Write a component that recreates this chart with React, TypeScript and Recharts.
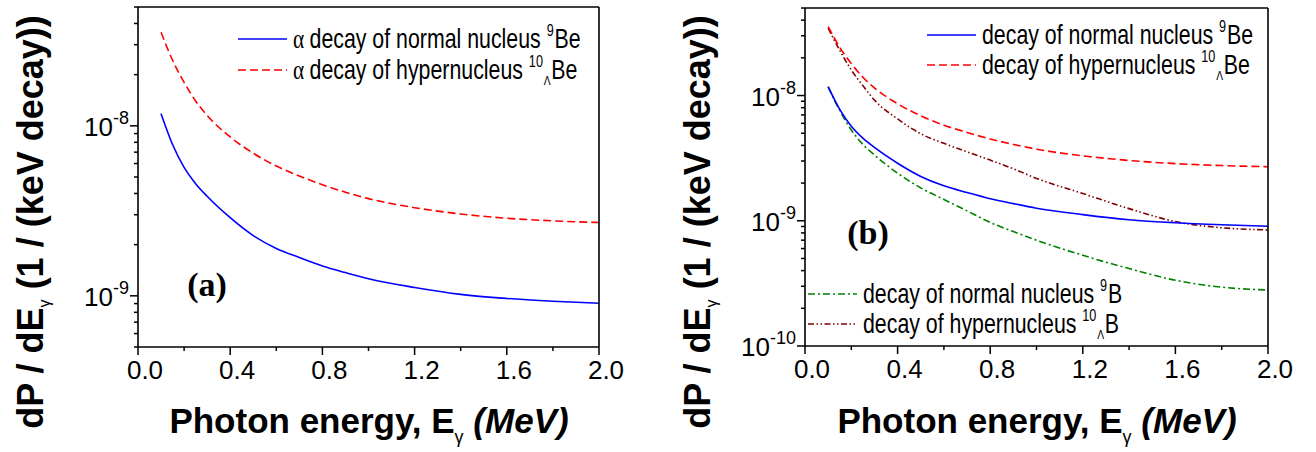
import React from "react";
import { LineChart, Line, XAxis, YAxis, Legend } from "recharts";

// photon energy E_gamma (MeV)
const energy = [0.1, 0.15, 0.2, 0.25, 0.3, 0.4, 0.5, 0.6, 0.7, 0.8, 0.9, 1.0, 1.2, 1.4, 1.6, 1.8, 2.0];
// dP/dE (1 / (keV decay))
const be9 = [1.18e-8, 7.76e-9, 5.69e-9, 4.57e-9, 3.85e-9, 2.88e-9, 2.26e-9, 1.9e-9, 1.68e-9, 1.5e-9, 1.37e-9, 1.26e-9, 1.12e-9, 1.02e-9, 0.965e-9, 0.93e-9, 0.905e-9];
const be10L = [3.55e-8, 2.43e-8, 1.8e-8, 1.4e-8, 1.15e-8, 8.6e-9, 6.9e-9, 5.8e-9, 5.07e-9, 4.5e-9, 4.07e-9, 3.73e-9, 3.3e-9, 3.03e-9, 2.86e-9, 2.76e-9, 2.7e-9];
const b9 = [1.17e-8, 7.6e-9, 5.3e-9, 4.07e-9, 3.35e-9, 2.4e-9, 1.83e-9, 1.48e-9, 1.2e-9, 0.97e-9, 0.82e-9, 0.7e-9, 0.53e-9, 0.415e-9, 0.335e-9, 0.295e-9, 0.28e-9];
const b10L = [3.45e-8, 2.3e-8, 1.6e-8, 1.2e-8, 9.2e-9, 6.5e-9, 4.95e-9, 4.15e-9, 3.55e-9, 3.05e-9, 2.6e-9, 2.18e-9, 1.65e-9, 1.25e-9, 0.985e-9, 0.88e-9, 0.845e-9];

const xTicks = [0, 0.2, 0.4, 0.6, 0.8, 1.0, 1.2, 1.4, 1.6, 1.8, 2.0];
const yTicksA = [
  5e-10, 6e-10, 7e-10, 8e-10, 9e-10,
  1e-9, 2e-9, 3e-9, 4e-9, 5e-9, 6e-9, 7e-9, 8e-9, 9e-9,
  1e-8, 2e-8, 3e-8, 4e-8, 5e-8,
];
const yTicksB = [
  1e-10, 2e-10, 3e-10, 4e-10, 5e-10, 6e-10, 7e-10, 8e-10, 9e-10,
  1e-9, 2e-9, 3e-9, 4e-9, 5e-9, 6e-9, 7e-9, 8e-9, 9e-9,
  1e-8, 2e-8, 3e-8, 4e-8, 5e-8,
];

const legendA = [
  { id: "be9", pre: "α ", text: "decay of normal nucleus ", sup: "9", sub: "", el: "Be" },
  { id: "be10", pre: "α ", text: "decay of hypernucleus ", sup: "10", sub: "Λ", el: "Be" },
];
const legendBtop = [
  { id: "be9", pre: "", text: "decay of normal nucleus ", sup: "9", sub: "", el: "Be" },
  { id: "be10", pre: "", text: "decay of hypernucleus ", sup: "10", sub: "Λ", el: "Be" },
];
const legendBbottom = [
  { id: "b9", pre: "", text: "decay of normal nucleus ", sup: "9", sub: "", el: "B" },
  { id: "b10", pre: "", text: "decay of hypernucleus ", sup: "10", sub: "Λ", el: "B" },
];

const dataA = energy.map((e, i) => ({ e, be9: be9[i], be10: be10L[i] }));
const dataB = energy.map((e, i) => ({ e, be9: be9[i], be10: be10L[i], b9: b9[i], b10: b10L[i] }));

const SANS = "'Liberation Sans', Arial, sans-serif";
const SERIF = "'Liberation Serif', 'Times New Roman', serif";

const styles: Record<string, { color: string; dash?: string }> = {
  be9: { color: "#0000ff" },
  be10: { color: "#ff0000", dash: "8 4" },
  b9: { color: "#008000", dash: "7 3 2 3" },
  b10: { color: "#800000", dash: "6 2.5 1.5 2.5 1.5 2.5" },
};

const AXIS = { stroke: "#000", strokeWidth: 1.6 };

const XTick = (props: any) => {
  const { x, y, payload } = props;
  const v = payload.value;
  const major = Math.abs(v / 0.4 - Math.round(v / 0.4)) < 1e-6;
  return (
    <g>
      <line x1={x} x2={x} y1={y} y2={y + (major ? 8 : 4)} stroke="#000" strokeWidth={1.5} />
      {major && (
        <text x={x + 7} y={y + 32} textAnchor="middle" fontSize={26} fontFamily={SANS} fill="#000">
          {v.toFixed(1)}
        </text>
      )}
    </g>
  );
};

const YTick = (props: any) => {
  const { x, y, payload } = props;
  const lg = Math.log10(payload.value);
  const major = Math.abs(lg - Math.round(lg)) < 1e-6;
  return (
    <g>
      <line x1={x} x2={x - (major ? 8 : 4)} y1={y} y2={y} stroke="#000" strokeWidth={1.5} />
      {major && (
        <text x={x - 9} y={y + 10} textAnchor="end" fontSize={26} fontFamily={SANS} fill="#000">
          <tspan>10</tspan>
          <tspan dy={-12} fontSize={18}>{Math.round(lg)}</tspan>
        </text>
      )}
    </g>
  );
};

const LegendItem = ({ x, y, item }: any) => {
  const s = styles[item.id];
  return (
    <g>
      <line x1={x} x2={x + 49} y1={y} y2={y} stroke={s.color} strokeWidth={1.6} strokeDasharray={s.dash} />
      <text transform={`translate(${x + 55},${y + 9}) scale(0.79,1)`} fontFamily={SANS} fontSize={27} fill="#000">
        {item.pre && <tspan fontFamily={SERIF}>{item.pre}</tspan>}
        <tspan>{item.text}</tspan>
        <tspan dy={-12} fontSize={16}>{item.sup}</tspan>
        {item.sub ? (
          <>
            <tspan dx={1} dy={18} fontSize={13}>{item.sub}</tspan>
            <tspan dx={1} dy={-6}>{item.el}</tspan>
          </>
        ) : (
          <tspan dx={1} dy={12}>{item.el}</tspan>
        )}
      </text>
    </g>
  );
};

const Titles = ({ yBase, xCenter, panel, px, py }: any) => (
  <svg width={660} height={452} style={{ position: "absolute", left: 0, top: 0, pointerEvents: "none" }}>
    <text transform={`translate(${yBase},222) rotate(-90)`} textAnchor="middle" fontFamily={SANS} fontWeight="bold" fontSize={36} fill="#000">
      dP / dE<tspan dy={7} fontSize={16} fontWeight="normal">γ</tspan>
      <tspan dy={-7}> (1 / (keV decay))</tspan>
    </text>
    <text x={xCenter} y={433} textAnchor="middle" fontFamily={SANS} fontWeight="bold" fontSize={35} fill="#000">
      Photon energy, E<tspan dy={10} fontSize={18} fontWeight="normal">γ</tspan>
      <tspan dy={-10} fontStyle="italic"> (MeV)</tspan>
    </text>
    <text x={px} y={py} textAnchor="middle" fontFamily={SERIF} fontWeight="bold" fontSize={34} fill="#000">
      {panel}
    </text>
  </svg>
);

const seriesLine = (id: string) => (
  <Line
    key={id}
    dataKey={id}
    type="monotone"
    stroke={styles[id].color}
    strokeDasharray={styles[id].dash}
    strokeWidth={1.6}
    dot={false}
    activeDot={false}
    isAnimationActive={false}
  />
);

type PanelProps = {
  width: number;
  data: any[];
  dom: number[];
  yTicks: number[];
  left: number;
  right: number;
  top: number;
  bottom: number;
  series: string[];
  legend: React.ReactNode;
};

const Panel = ({ width, data, dom, yTicks, left, right, top, bottom, series, legend }: PanelProps) => (
  <LineChart width={width} height={452} data={data} margin={{ top: 0, right: 0, bottom: 0, left: 0 }}>
    <XAxis dataKey="e" type="number" domain={[0, 2]} ticks={xTicks} interval={0} height={bottom} tickSize={0} tickMargin={0} tickLine={false} axisLine={AXIS} tick={(p: any) => <XTick {...p} />} />
    <XAxis xAxisId="t" orientation="top" dataKey="e" type="number" domain={[0, 2]} height={top} tick={false} tickLine={false} axisLine={AXIS} />
    <YAxis type="number" scale="log" domain={dom} allowDataOverflow ticks={yTicks} interval={0} width={left} tickSize={0} tickMargin={0} tickLine={false} axisLine={AXIS} tick={(p: any) => <YTick {...p} />} />
    <YAxis yAxisId="r" orientation="right" type="number" scale="log" domain={dom} allowDataOverflow width={right} tick={false} tickLine={false} axisLine={AXIS} />
    {series.map(seriesLine)}
    <Legend
      layout="horizontal"
      verticalAlign="middle"
      align="center"
      wrapperStyle={{ position: "absolute", left: 0, top: 0, width, height: 452, pointerEvents: "none" }}
      content={() => (
        <svg width={width} height={452}>
          {legend}
        </svg>
      )}
    />
  </LineChart>
);

export default function App() {
  return (
    <div style={{ position: "absolute", left: 0, top: 0, width: 1316, height: 452, background: "#fff" }}>
      <div style={{ position: "absolute", left: 0, top: 0, width: 660, height: 452 }}>
        <Panel
          width={660}
          data={dataA}
          dom={[5e-10, 5e-8]}
          yTicks={yTicksA}
          left={138}
          right={61}
          top={7}
          bottom={105}
          series={["be10", "be9"]}
          legend={
            <>
              <LegendItem x={238} y={39} item={legendA[0]} />
              <LegendItem x={238} y={70} item={legendA[1]} />
            </>
          }
        />
        <Titles yBase={43} xCenter={369} panel="(a)" px={207} py={296} />
      </div>
      <div style={{ position: "absolute", left: 660, top: 0, width: 656, height: 452 }}>
        <Panel
          width={656}
          data={dataB}
          dom={[1e-10, 5e-8]}
          yTicks={yTicksB}
          left={145}
          right={48}
          top={8}
          bottom={106}
          series={["b10", "b9", "be10", "be9"]}
          legend={
            <>
              <LegendItem x={267} y={35} item={legendBtop[0]} />
              <LegendItem x={267} y={65} item={legendBtop[1]} />
              <LegendItem x={148} y={294} item={legendBbottom[0]} />
              <LegendItem x={148} y={324} item={legendBbottom[1]} />
            </>
          }
        />
        <Titles yBase={50} xCenter={377} panel="(b)" px={208} py={244} />
      </div>
    </div>
  );
}
